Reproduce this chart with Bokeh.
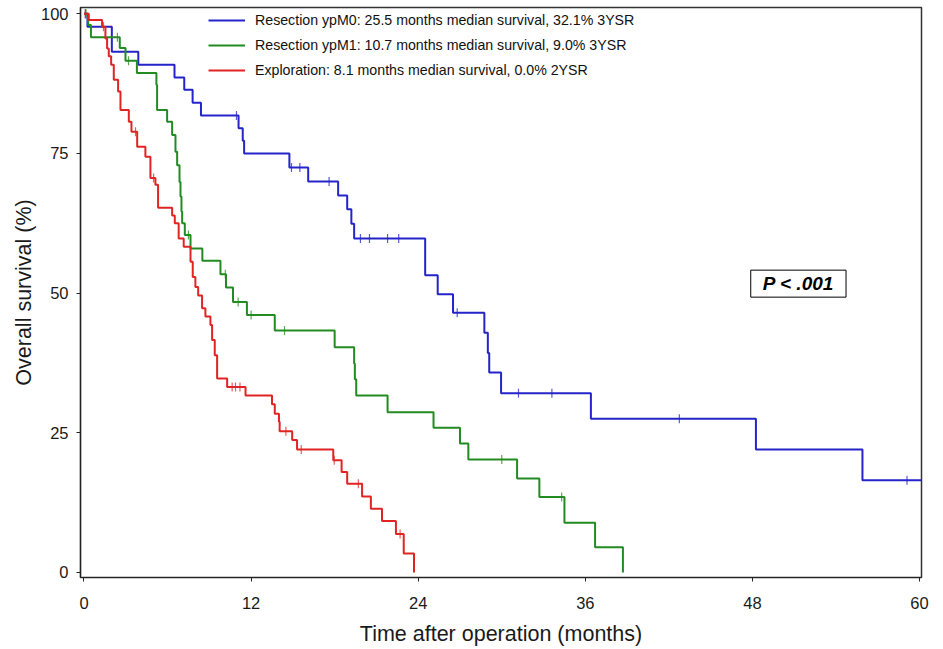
import numpy as np
from bokeh.plotting import figure
from bokeh.models import Range1d, FixedTicker, Legend, LegendItem, Label
from bokeh.embed import file_html
from bokeh.resources import INLINE

# ---- data (months, survival %) ----
m0_times = [0.25, 2.0, 3.9, 6.5, 7.2, 7.8, 8.4, 11.1, 11.4, 11.5, 14.75, 16.1, 18.25, 18.9,
            19.2, 19.4, 24.5, 25.4, 26.5, 28.75, 29.0, 29.1, 29.95, 36.4, 48.25, 55.9]
m0_surv = [97.7, 93.2, 90.9, 88.6, 86.4, 84.1, 81.8, 79.5, 77.3, 75.0, 72.5, 70.0, 67.5, 65.0,
           62.4, 59.8, 53.2, 49.8, 46.5, 42.9, 39.3, 35.8, 32.1, 27.5, 22.0, 16.5]
m0_censor = [0.1, 10.95, 14.9, 15.5, 17.6, 19.85, 20.5, 21.8, 22.6, 26.8, 31.2, 33.6, 42.75, 59.1]
m0_end = 60.3

m1_times = [0.3, 0.5, 2.57, 2.98, 3.8, 5.2, 5.25, 5.97, 6.33, 6.57, 6.69, 6.86, 6.93, 7.0,
            7.05, 7.24, 7.65, 8.5, 9.8, 10.2, 10.7, 11.7, 13.7, 18.0, 19.4, 19.45, 19.55,
            21.8, 25.1, 27.0, 27.6, 31.1, 32.7, 34.5, 36.7, 38.7]
m1_surv = [98.0, 95.8, 93.9, 91.6, 89.4, 87.3, 82.8, 80.7, 78.3, 75.3, 72.9, 69.9, 67.3, 64.6,
           62.5, 60.4, 58.0, 55.8, 53.4, 51.0, 48.4, 46.1, 43.3, 40.3, 37.4, 34.6, 31.7,
           28.7, 25.9, 23.1, 20.2, 16.8, 13.5, 8.9, 4.5, 0.0]
m1_censor = [0.15, 2.4, 3.2, 7.5, 10.15, 11.07, 12.0, 14.4, 30.0, 34.3]

ex_times = [0.34, 1.3, 1.54, 1.66, 1.78, 1.95, 2.14, 2.45, 2.62, 3.22, 3.41, 3.82, 4.41, 4.77,
            5.13, 5.32, 6.33, 6.52, 6.8, 7.16, 7.65, 7.81, 8.0, 8.2, 8.48, 8.72, 9.08, 9.2,
            9.39, 9.56, 10.28, 11.6, 13.5, 13.7, 14.0, 14.05, 14.95, 15.3, 17.9, 18.5, 18.9,
            19.97, 20.6, 21.4, 22.4, 22.96, 23.7]
ex_surv = [98.9, 97.7, 95.6, 93.8, 92.4, 90.9, 88.2, 86.1, 82.8, 80.7, 78.9, 76.2, 74.4, 70.6,
           69.4, 65.3, 63.9, 62.5, 59.8, 58.3, 55.6, 52.9, 51.1, 49.6, 47.3, 45.8, 44.3, 41.6,
           38.9, 34.7, 33.2, 31.7, 30.1, 28.4, 27.0, 25.3, 23.7, 22.0, 20.1, 18.0, 15.9,
           13.6, 11.4, 9.2, 6.9, 3.4, 0.0]
ex_censor = [0.1, 1.4, 3.7, 5.0, 10.64, 10.88, 11.2, 14.5, 15.6, 17.97, 19.7, 22.7]

labels = ["Resection ypM0: 25.5 months median survival, 32.1% 3YSR",
          "Resection ypM1: 10.7 months median survival, 9.0% 3YSR",
          "Exploration: 8.1 months median survival, 0.0% 2YSR"]
colors = ["#2424c8", "#228b22", "#e02424"]
x_ticks = [0, 12, 24, 36, 48, 60]
y_ticks = [0, 25, 50, 75, 100]
p_text = "P < .001"
p_pos = (51.3, 51.7)

FONT = "Liberation Sans"

p = figure(width=943, height=649, output_backend="svg", toolbar_location=None,
           x_range=Range1d(-0.25, 60.14), y_range=Range1d(-0.9, 101.13),
           min_border_left=80, min_border_right=22, min_border_top=7, min_border_bottom=72)
p.xgrid.visible = False
p.ygrid.visible = False
p.outline_line_color = "#333333"
p.outline_line_width = 1.5
p.background_fill_color = "white"
p.border_fill_color = "white"


def stepxy(times, surv, end=None):
    xs = [0.0] + list(times)
    ys = [100.0] + list(surv)
    if end is not None:
        xs.append(end)
        ys.append(surv[-1])
    return xs, ys


def censor_y(times, surv, ct):
    t = np.array(times)
    s = np.array([100.0] + list(surv))
    idx = np.searchsorted(t, np.array(ct), side="right")
    return s[idx]


groups = [(m0_times, m0_surv, m0_censor, m0_end),
          (m1_times, m1_surv, m1_censor, None),
          (ex_times, ex_surv, ex_censor, None)]
renderers = []
for (t, s, c, e), col in zip(groups, colors):
    xs, ys = stepxy(t, s, e)
    r = p.step(xs, ys, mode="after", line_color=col, line_width=2)
    renderers.append(r)
    p.scatter(c, censor_y(t, s, c), marker="dash", angle=np.pi / 2, size=9,
              line_color=col, line_width=1.2, line_alpha=0.75)

legend = Legend(items=[LegendItem(label=l, renderers=[r]) for l, r in zip(labels, renderers)],
                location=(128, 497), padding=0, margin=0, spacing=5,
                label_height=20, glyph_height=20, glyph_width=37, label_standoff=10,
                label_text_font=FONT, label_text_font_size="14.2px", label_text_color="#111111",
                background_fill_alpha=0, border_line_alpha=0)
p.add_layout(legend)

for ax in (p.xaxis, p.yaxis):
    ax.axis_line_color = "#222222"
    ax.axis_line_width = 1.2
    ax.major_tick_line_color = "#222222"
    ax.major_tick_out = 4
    ax.major_tick_in = 0
    ax.minor_tick_line_color = None
    ax.major_label_text_font = FONT
    ax.major_label_text_font_size = "16.5px"
    ax.major_label_text_color = "#1a1a1a"
    ax.axis_label_text_font = FONT
    ax.axis_label_text_font_size = "21.5px"
    ax.axis_label_text_font_style = "normal"
    ax.axis_label_text_color = "#1a1a1a"

p.xaxis.ticker = FixedTicker(ticks=x_ticks)
p.yaxis.ticker = FixedTicker(ticks=y_ticks)
p.xaxis.axis_label = "Time after operation (months)"
p.yaxis.axis_label = "Overall survival (%)"
p.xaxis.major_label_standoff = 15
p.xaxis.axis_label_standoff = 10
p.yaxis.major_label_standoff = 8
p.yaxis.axis_label_standoff = 2

lab = Label(x=p_pos[0], y=p_pos[1], text=p_text, text_font=FONT, text_font_size="19px",
            text_font_style="bold italic", text_align="center", text_baseline="middle",
            text_color="black", border_line_color="black", border_line_width=1,
            background_fill_color="white", padding=(12, 12, 3, 3))
p.add_layout(lab)

open("out.html", "w").write(file_html(p, INLINE))
